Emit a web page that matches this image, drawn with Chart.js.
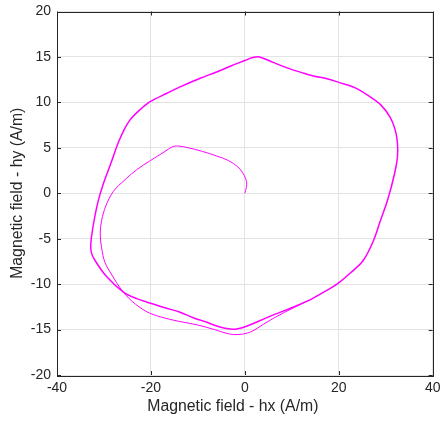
<!DOCTYPE html>
<html>
<head>
<meta charset="utf-8">
<script src="https://cdn.jsdelivr.net/npm/chart.js@4"></script>
<style>
html,body{margin:0;padding:0;background:#fff;}
#wrap{width:442px;height:423px;position:relative;}
</style>
</head>
<body>
<div id="wrap"><canvas id="c" width="442" height="423"></canvas></div>
<script>
// Transient (thin) trajectory starting at the origin
const transientHx = [0.0, 0.3, 0.35, -0.4, -1.5, -3.5, -6, -9, -12, -14.2, -15.5, -17, -20.1, -23, -25.5, -28, -29.6, -30.5, -30.8, -30.5, -29.8, -28.3, -26.3, -24, -21, -18, -14, -10, -6.5, -4, -2.4, -0.5, 1.5, 4, 7, 10, 14];
const transientHy = [0.0, 0.6, 1.3, 2.2, 2.9, 3.6, 4.1, 4.6, 5.0, 5.2, 5.1, 4.6, 3.6, 2.6, 1.5, 0.2, -1.4, -3.0, -4.5, -6.0, -7.6, -9.0, -10.6, -11.9, -13.0, -13.6, -14.1, -14.5, -15.0, -15.4, -15.55, -15.5, -15.2, -14.4, -13.5, -12.7, -11.7];
// Limit cycle (thick), counter-clockwise
const cycleHx = [14, 18.1, 19.9, 22.4, 25.2, 27.4, 28.8, 30.4, 31.9, 32.5, 32.5, 32.0, 30.9, 29, 26.7, 23.5, 20, 17.5, 14.6, 12, 9, 6, 3.1, 1.5, 0, -3, -6, -9.5, -13.8, -16.6, -20.1, -22.3, -24.4, -25.8, -27.0, -28.6, -30.1, -31.3, -32.2, -32.8, -32.7, -31.9, -29.4, -25.8, -23.0, -20.1, -17, -13.8, -11, -8.1, -5.5, -3.1, -1.5, 0.5, 3.3, 6.5, 10, 14];
const cycleHy = [-11.7, -10.5, -9.9, -8.8, -7.4, -5.2, -3.1, -0.75, 2.2, 4.0, 5.5, 7.0, 8.4, 9.7, 10.6, 11.6, 12.2, 12.6, 12.9, 13.3, 13.8, 14.4, 15.0, 14.9, 14.6, 14.0, 13.35, 12.65, 11.7, 11.0, 10.1, 9.2, 8.1, 6.9, 5.5, 3.2, 1.1, -1.0, -3.3, -5.5, -6.5, -7.4, -9.2, -10.9, -11.6, -12.1, -12.6, -13.1, -13.7, -14.2, -14.7, -14.95, -14.9, -14.6, -14.0, -13.3, -12.6, -11.7];
const xTicks = [-40, -20, 0, 20, 40];
const yTicks = [-20, -15, -10, -5, 0, 5, 10, 15, 20];
const xTitle = 'Magnetic field - hx (A/m)';
const yTitle = 'Magnetic field - hy (A/m)';

const toPts = (xs, ys) => xs.map((x, i) => ({x: x, y: ys[i]}));
const axisColor = '#262626';
const family = '"Liberation Sans", Arial, Helvetica, sans-serif';
const tickFont = {family: family, size: 14};
const titleFont = {family: family, size: 15.8};

const boxPlugin = {
  id: 'box',
  afterLayout(chart) {
    const s = chart.scales.x;
    if (!s._shifted) {
      const orig = s.drawTitle.bind(s);
      s.drawTitle = function () {
        this.ctx.save();
        this.ctx.translate(-12, 0);
        orig();
        this.ctx.restore();
      };
      s._shifted = true;
    }
  },
  afterDatasetsDraw(chart) {
    const {ctx, chartArea: a, scales} = chart;
    ctx.save();
    ctx.strokeStyle = axisColor;
    ctx.lineWidth = 1;
    const L = 4;
    ctx.beginPath();
    xTicks.forEach(v => {
      const p = Math.round(scales.x.getPixelForValue(v)) + 0.5;
      ctx.moveTo(p, a.bottom); ctx.lineTo(p, a.bottom - L);
      ctx.moveTo(p, a.top); ctx.lineTo(p, a.top + L);
    });
    yTicks.forEach(v => {
      const p = Math.round(scales.y.getPixelForValue(v)) + 0.5;
      ctx.moveTo(a.left, p); ctx.lineTo(a.left + L, p);
      ctx.moveTo(a.right, p); ctx.lineTo(a.right - L, p);
    });
    ctx.stroke();
    ctx.strokeRect(Math.round(a.left) + 0.5, Math.round(a.top) + 0.5, Math.round(a.right - a.left), Math.round(a.bottom - a.top));
    ctx.restore();
  }
};

new Chart(document.getElementById('c'), {
  type: 'scatter',
  data: {
    datasets: [
      {data: toPts(transientHx, transientHy), showLine: true, borderColor: '#ff00ff', borderWidth: 1, pointRadius: 0, tension: 0.35, fill: false},
      {data: toPts(cycleHx, cycleHy), showLine: true, borderColor: '#ff00ff', borderWidth: 1.5, pointRadius: 0, tension: 0.35, fill: false}
    ]
  },
  options: {
    responsive: false,
    animation: false,
    events: [],
    layout: {padding: {top: 11.5, right: 9.3, left: 0, bottom: 0}},
    plugins: {legend: {display: false}, tooltip: {enabled: false}},
    scales: {
      x: {
        type: 'linear', min: -40, max: 40,
        afterBuildTicks: s => { s.ticks = xTicks.map(v => ({value: v})); },
        afterFit: s => { s.height = 48; s.paddingLeft = 0; s.paddingRight = 0; },
        grid: {color: '#e3e3e3', drawTicks: false, lineWidth: 1},
        border: {display: false},
        ticks: {color: axisColor, font: tickFont, padding: 5, maxRotation: 0},
        title: {display: true, text: xTitle, color: axisColor, font: titleFont, padding: {top: 0, bottom: 6.5}}
      },
      y: {
        type: 'linear', min: -20, max: 20,
        afterBuildTicks: s => { s.ticks = yTicks.map(v => ({value: v})); },
        afterFit: s => { s.width = 57; s.paddingTop = 0; s.paddingBottom = 0; },
        grid: {color: '#e3e3e3', drawTicks: false, lineWidth: 1},
        border: {display: false},
        ticks: {color: axisColor, font: tickFont, padding: 6},
        title: {display: true, text: yTitle, color: axisColor, font: titleFont, padding: {top: 8.5, bottom: 0}}
      }
    }
  },
  plugins: [boxPlugin]
});
</script>
</body>
</html>
